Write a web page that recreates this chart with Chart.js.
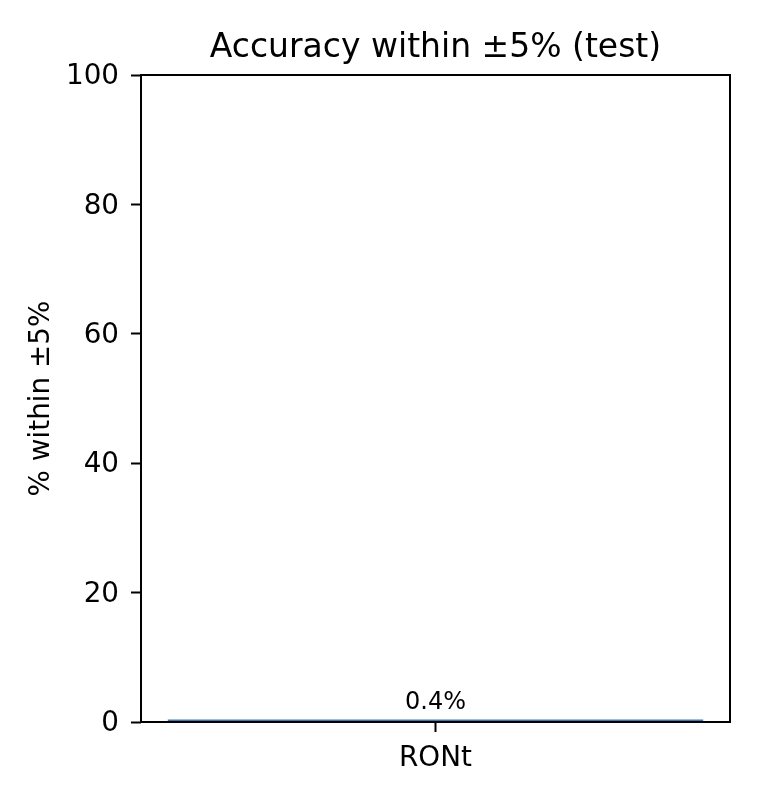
<!DOCTYPE html>
<html>
<head>
<meta charset="utf-8">
<script src="https://cdn.jsdelivr.net/npm/chart.js@4.4.1/dist/chart.umd.min.js"></script>
<style>
  body { margin: 0; background: #fff; }
  #wrap { width: 760px; height: 800px; }
</style>
</head>
<body>
<div id="wrap"><canvas id="accChart" width="760" height="800"></canvas></div>
<script>
// dados
const categories = ['RONt'];
const accuracyValues = [0.4];
const yTicks = [0, 20, 40, 60, 80, 100];
const chartTitle = 'Accuracy within ±5% (test)';

const FONT = "'DejaVu Sans', sans-serif";

// moldura completa + título centrado sobre a área do gráfico
const framePlugin = {
    id: 'frame',
    afterDraw(chart) {
        const { ctx, chartArea } = chart;
        ctx.save();
        ctx.strokeStyle = '#000';
        ctx.lineWidth = 2;
        ctx.strokeRect(chartArea.left, chartArea.top, chartArea.right - chartArea.left, chartArea.bottom - chartArea.top);

        ctx.font = '33px ' + FONT;
        ctx.fillStyle = '#000';
        ctx.textAlign = 'center';
        ctx.textBaseline = 'middle';
        ctx.fillText(chartTitle, (chartArea.left + chartArea.right) / 2, 48);
        ctx.restore();
    }
};

// rótulo do valor acima de cada barra
const valueLabels = {
    id: 'valueLabels',
    afterDatasetsDraw(chart) {
        const { ctx } = chart;
        const meta = chart.getDatasetMeta(0);
        ctx.save();
        ctx.font = '24px ' + FONT;
        ctx.fillStyle = '#000';
        ctx.textAlign = 'center';
        ctx.textBaseline = 'bottom';
        meta.data.forEach((bar, i) => {
            ctx.fillText(accuracyValues[i].toFixed(1) + '%', bar.x, bar.y - 5);
        });
        ctx.restore();
    }
};

const ctx = document.getElementById('accChart').getContext('2d');

new Chart(ctx, {
    type: 'bar',
    data: {
        labels: categories,
        datasets: [{
            data: accuracyValues,
            backgroundColor: '#3f78b0',
            barPercentage: 0.909,
            categoryPercentage: 1
        }]
    },
    options: {
        responsive: false,
        animation: false,
        layout: { padding: { left: 0, right: 30, top: 75, bottom: 0 } },
        plugins: {
            legend: { display: false },
            tooltip: { enabled: false },
            title: { display: false }
        },
        scales: {
            x: {
                offset: true,
                border: { display: false },
                grid: {
                    offset: false,
                    drawOnChartArea: false,
                    drawTicks: true,
                    tickLength: 10,
                    tickColor: '#000',
                    tickWidth: 2
                },
                ticks: {
                    color: '#000',
                    padding: 10,
                    font: { family: FONT, size: 27.8 }
                },
                afterFit: (scale) => { scale.height = 78; }
            },
            y: {
                min: 0,
                max: 100,
                border: { display: false },
                grid: {
                    drawOnChartArea: false,
                    drawTicks: true,
                    tickLength: 10,
                    tickColor: '#000',
                    tickWidth: 2
                },
                afterBuildTicks: (scale) => {
                    scale.ticks = yTicks.map(v => ({ value: v }));
                },
                ticks: {
                    color: '#000',
                    padding: 12,
                    labelOffset: 2,
                    font: { family: FONT, size: 27.8 }
                },
                title: {
                    display: true,
                    text: '% within ±5%',
                    color: '#000',
                    font: { family: FONT, size: 27.8 },
                    padding: { top: 25, bottom: 0 }
                },
                afterFit: (scale) => { scale.width = 141; }
            }
        }
    },
    plugins: [framePlugin, valueLabels]
});
</script>
</body>
</html>
